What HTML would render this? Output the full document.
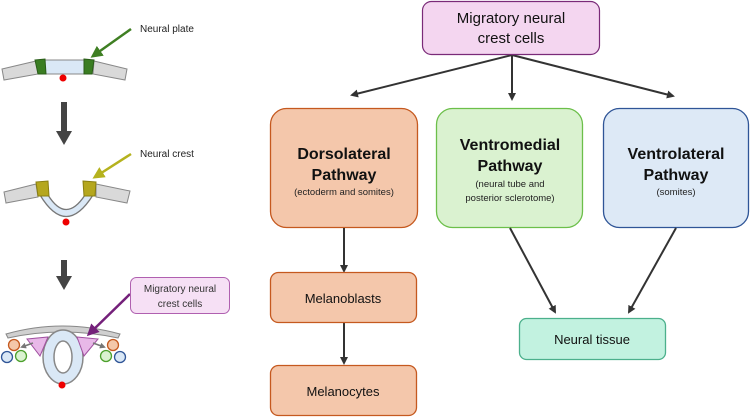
<!DOCTYPE html>
<html><head><meta charset="utf-8"><style>
html,body{margin:0;padding:0;background:#fff;}
svg{display:block;font-family:"Liberation Sans",sans-serif;}
</style></head><body>
<svg width="750" height="417" viewBox="0 0 750 417" xmlns="http://www.w3.org/2000/svg">
<defs>
<marker id="ah" markerWidth="8" markerHeight="8" refX="6" refY="4" orient="auto" markerUnits="userSpaceOnUse"><path d="M0,0 L8,4 L0,8 z" fill="#333"/></marker>
<marker id="ahg" markerWidth="12" markerHeight="12" refX="9" refY="6" orient="auto" markerUnits="userSpaceOnUse"><path d="M0,0 L12,6 L0,12 z" fill="#3f7f23"/></marker>
<marker id="ahy" markerWidth="12" markerHeight="12" refX="9" refY="6" orient="auto" markerUnits="userSpaceOnUse"><path d="M0,0 L12,6 L0,12 z" fill="#b5b21e"/></marker>
<marker id="ahp" markerWidth="12" markerHeight="12" refX="9" refY="6" orient="auto" markerUnits="userSpaceOnUse"><path d="M0,0 L12,6 L0,12 z" fill="#74207a"/></marker>
<marker id="ahs" markerWidth="6" markerHeight="6" refX="4" refY="3" orient="auto" markerUnits="userSpaceOnUse"><path d="M0,0 L6,3 L0,6 z" fill="#777"/></marker>
</defs>

<!-- Stage 1: neural plate -->
<path d="M2,69 L36,61 L38,74 L4,80 Z" fill="#d9d9d9" stroke="#888" stroke-width="1"/>
<path d="M94,61 L127,69 L125,80 L93,74 Z" fill="#d9d9d9" stroke="#888" stroke-width="1"/>
<rect x="44" y="60" width="42" height="14" fill="#dae8f6" stroke="#888" stroke-width="1"/>
<path d="M35,60 L45,59 L46,74 L38,74 Z" fill="#3a7d22" stroke="#2a5d18"/>
<path d="M84,59 L94,60 L92,74 L84,74 Z" fill="#3a7d22" stroke="#2a5d18"/>
<circle cx="63" cy="78" r="3.5" fill="#e00"/>
<line x1="131" y1="29" x2="93" y2="56" stroke="#3f7f23" stroke-width="2.5" marker-end="url(#ahg)"/>
<text x="140" y="32" font-size="10" fill="#222">Neural plate</text>

<rect x="61" y="102" width="6" height="30" fill="#444"/>
<path d="M56,131 L72,131 L64,145 Z" fill="#444"/>

<!-- Stage 2: neural crest -->
<path d="M4,192 L36,184 L38,197 L6,203 Z" fill="#d9d9d9" stroke="#888"/>
<path d="M96,184 L130,191 L127,203 L96,197 Z" fill="#d9d9d9" stroke="#888"/>
<path d="M40,195 Q66,238 93,195 L85,195 Q66,224 48,195 Z" fill="#dae8f6" stroke="#777" stroke-width="1.3"/>
<path d="M36,182 L48,181 L49,196 L38,196 Z" fill="#b5a71e" stroke="#8a7f10"/>
<path d="M83,181 L96,182 L95,196 L84,196 Z" fill="#b5a71e" stroke="#8a7f10"/>
<circle cx="66" cy="222" r="3.5" fill="#e00"/>
<line x1="131" y1="154" x2="95" y2="177" stroke="#b5b21e" stroke-width="2.5" marker-end="url(#ahy)"/>
<text x="140" y="157" font-size="10" fill="#222">Neural crest</text>

<rect x="61" y="260" width="6" height="17" fill="#444"/>
<path d="M56,276 L72,276 L64,290 Z" fill="#444"/>

<!-- Stage 3 -->
<path d="M6,334 Q62,318 120,334 L118,338 Q62,326 8,338 Z" fill="#d0d0d0" stroke="#888"/>
<ellipse cx="63" cy="357" rx="20" ry="27" fill="#dae8f6" stroke="#888" stroke-width="1.5"/>
<ellipse cx="63" cy="357" rx="9" ry="16" fill="#fff" stroke="#888" stroke-width="1.5"/>
<path d="M27,339 L48,337 L40,356 Z" fill="#e8b8e8" stroke="#a050a0"/>
<path d="M77,337 L98,339 L84,356 Z" fill="#e8b8e8" stroke="#a050a0"/>
<line x1="33" y1="343" x2="22" y2="347" stroke="#777" stroke-width="1.5" marker-end="url(#ahs)"/>
<line x1="93" y1="343" x2="104" y2="347" stroke="#777" stroke-width="1.5" marker-end="url(#ahs)"/>
<circle cx="14" cy="345" r="5.5" fill="#f4c7a9" stroke="#c5591f" stroke-width="1.3"/>
<circle cx="21" cy="356" r="5.5" fill="#daf2d0" stroke="#4ca02c" stroke-width="1.3"/>
<circle cx="7" cy="357" r="5.5" fill="#dae8f6" stroke="#2f5597" stroke-width="1.3"/>
<circle cx="113" cy="345" r="5.5" fill="#f4c7a9" stroke="#c5591f" stroke-width="1.3"/>
<circle cx="106" cy="356" r="5.5" fill="#daf2d0" stroke="#4ca02c" stroke-width="1.3"/>
<circle cx="120" cy="357" r="5.5" fill="#dae8f6" stroke="#2f5597" stroke-width="1.3"/>
<circle cx="62" cy="385" r="3.5" fill="#e00"/>
<line x1="130" y1="294" x2="89" y2="334" stroke="#74207a" stroke-width="2.5" marker-end="url(#ahp)"/>
<rect x="130.5" y="277.5" width="99" height="36" rx="6" fill="#f6e0f5" stroke="#b060b0"/>
<text x="180" y="292" font-size="10" fill="#333" text-anchor="middle">Migratory neural</text>
<text x="180" y="307" font-size="10" fill="#333" text-anchor="middle">crest cells</text>

<!-- Right flowchart -->
<line x1="512" y1="55" x2="352" y2="95" stroke="#333" stroke-width="2" marker-end="url(#ah)"/>
<line x1="512" y1="55" x2="512" y2="99" stroke="#333" stroke-width="2" marker-end="url(#ah)"/>
<line x1="512" y1="55" x2="673" y2="96" stroke="#333" stroke-width="2" marker-end="url(#ah)"/>
<rect x="422.5" y="1.5" width="177" height="53" rx="9" fill="#f4d6f0" stroke="#7a2a78" stroke-width="1.2"/>
<text x="511" y="23" font-size="15" fill="#111" text-anchor="middle">Migratory neural</text>
<text x="511" y="43" font-size="15" fill="#111" text-anchor="middle">crest cells</text>

<rect x="270.5" y="108.5" width="147" height="119" rx="16" fill="#f4c7ab" stroke="#c5591f" stroke-width="1.3"/>
<text x="344" y="159" font-size="16" font-weight="bold" fill="#111" text-anchor="middle">Dorsolateral</text>
<text x="344" y="180" font-size="16" font-weight="bold" fill="#111" text-anchor="middle">Pathway</text>
<text x="344" y="195" font-size="9.5" fill="#222" text-anchor="middle">(ectoderm and somites)</text>

<rect x="436.5" y="108.5" width="146" height="119" rx="16" fill="#daf2d0" stroke="#6cbf4a" stroke-width="1.3"/>
<text x="510" y="150" font-size="16" font-weight="bold" fill="#111" text-anchor="middle">Ventromedial</text>
<text x="510" y="171" font-size="16" font-weight="bold" fill="#111" text-anchor="middle">Pathway</text>
<text x="510" y="187" font-size="9.5" fill="#222" text-anchor="middle">(neural tube and</text>
<text x="510" y="201" font-size="9.5" fill="#222" text-anchor="middle">posterior sclerotome)</text>

<rect x="603.5" y="108.5" width="145" height="119" rx="16" fill="#dde9f6" stroke="#2f5597" stroke-width="1.3"/>
<text x="676" y="159" font-size="16" font-weight="bold" fill="#111" text-anchor="middle">Ventrolateral</text>
<text x="676" y="180" font-size="16" font-weight="bold" fill="#111" text-anchor="middle">Pathway</text>
<text x="676" y="195" font-size="9.5" fill="#222" text-anchor="middle">(somites)</text>

<line x1="344" y1="228" x2="344" y2="271" stroke="#333" stroke-width="2" marker-end="url(#ah)"/>
<line x1="344" y1="323" x2="344" y2="363" stroke="#333" stroke-width="2" marker-end="url(#ah)"/>
<line x1="510" y1="228" x2="555" y2="312" stroke="#333" stroke-width="2" marker-end="url(#ah)"/>
<line x1="676" y1="228" x2="629" y2="312" stroke="#333" stroke-width="2" marker-end="url(#ah)"/>

<rect x="270.5" y="272.5" width="146" height="50" rx="8" fill="#f4c7ab" stroke="#c5591f" stroke-width="1.3"/>
<text x="343" y="303" font-size="13" fill="#111" text-anchor="middle">Melanoblasts</text>
<rect x="270.5" y="365.5" width="146" height="50" rx="8" fill="#f4c7ab" stroke="#c5591f" stroke-width="1.3"/>
<text x="343" y="396" font-size="13" fill="#111" text-anchor="middle">Melanocytes</text>
<rect x="519.5" y="318.5" width="146" height="41" rx="7" fill="#c2f2e0" stroke="#4cb08c" stroke-width="1.3"/>
<text x="592" y="344" font-size="13" fill="#111" text-anchor="middle">Neural tissue</text>
</svg>
</body></html>
